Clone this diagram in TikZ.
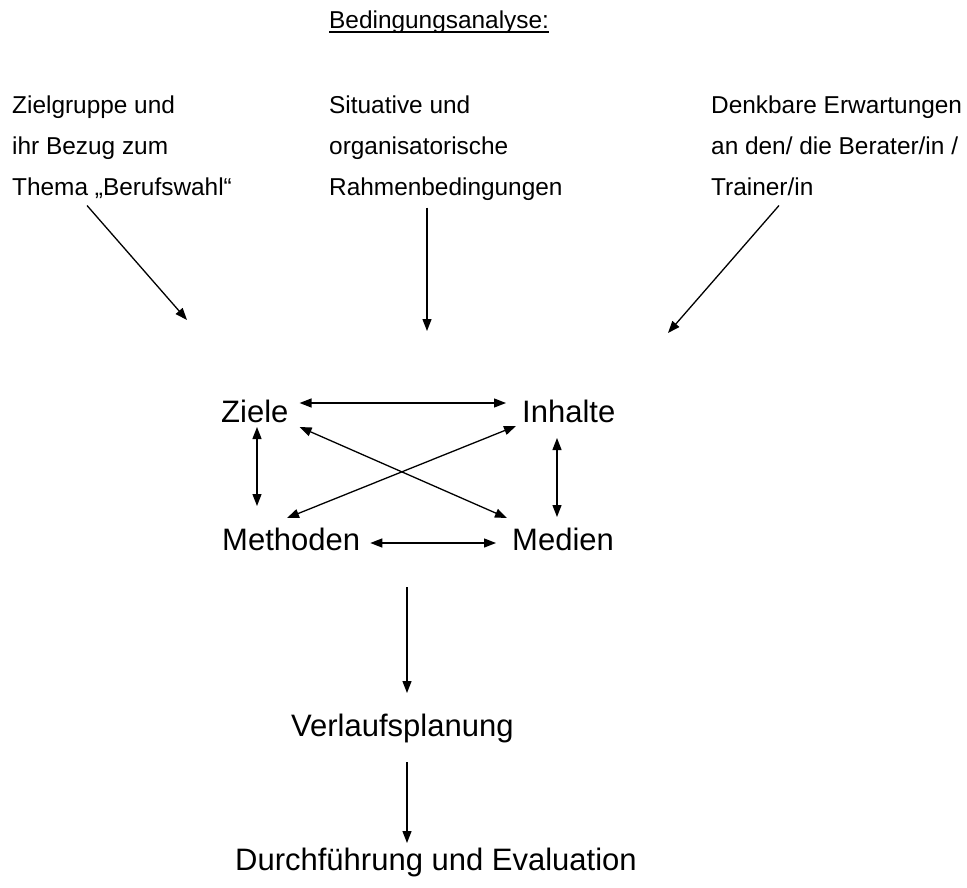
\documentclass[tikz,border=0pt]{standalone}
\usepackage{fontspec}
\setmainfont{Liberation Sans}
\usetikzlibrary{arrows.meta,calc}
\tikzset{
  klein/.style={anchor=north west, inner sep=0pt, align=left, font=\fontsize{24.4}{41}\selectfont},
  gross/.style={anchor=base west, inner sep=0pt, font=\fontsize{31}{37}\selectfont},
  pfeil/.style={line width=1.3pt, -{Triangle[length=12pt,width=9pt]}},
  doppel/.style={line width=1.3pt, {Triangle[length=12pt,width=9pt]}-{Triangle[length=12pt,width=9pt]}}
}
\begin{document}
\begin{tikzpicture}[x=1pt,y=-1pt]
\useasboundingbox (0,0) rectangle (967,888);
\node[anchor=base west, inner sep=0pt, font=\fontsize{24.4}{30}\selectfont] (titel) at (329,29){Bedingungsanalyse:};
\draw[line width=1.2pt] ($(titel.base west)+(0,3)$) -- ($(titel.base east)+(0,3)$);
\node[klein] (zielgruppe) at (12,95.5){Zielgruppe und\\ihr Bezug zum\\Thema „Berufswahl“};
\node[klein] (situativ) at (329,95.5){Situative und\\organisatorische\\Rahmenbedingungen};
\node[klein] (erwartung) at (711,95.5){Denkbare Erwartungen\\an den/ die Berater/in /\\Trainer/in};
\coordinate (zk) at (187,320);
\coordinate (sk) at (427,331);
\coordinate (ek) at (668,333);
\draw[pfeil] ($(zielgruppe.north west)+(75,110)$) -- (zk);
\draw[pfeil] ($(situativ.north west)+(98,112)$) -- (sk);
\draw[pfeil] ($(erwartung.north west)+(68,110)$) -- (ek);

\node[gross] (ziele) at (221,422){Ziele};
\node[gross] (inhalte) at (522,422){Inhalte};
\node[gross] (methoden) at (222,550){Methoden};
\node[gross] (medien) at (512,550){Medien};
\draw[doppel] ($(ziele.base east)+(11,-19)$) -- ($(inhalte.base west)+(-16,-19)$);
\draw[doppel] ($(ziele.base west)+(36,5)$) -- ($(methoden.base west)+(35,-44)$);
\draw[doppel] ($(inhalte.base west)+(35,16)$) -- ($(medien.base west)+(45,-33)$);
\draw[doppel] ($(methoden.base east)+(10,-7)$) -- ($(medien.base west)+(-16,-7)$);
\draw[doppel] ($(ziele.base east)+(11,5)$) -- ($(medien.base west)+(-5,-32)$);
\draw[doppel] ($(methoden.base west)+(65,-32)$) -- ($(inhalte.base west)+(-6,4)$);

\coordinate (blockunten) at (407,587);
\node[gross] (verlauf) at (291,736){Verlaufsplanung};
\node[gross] (durchf) at (235,870){Durchführung und Evaluation};
\draw[pfeil] (blockunten) -- ($(verlauf.base west)+(116,-43)$);
\draw[pfeil] ($(verlauf.base west)+(116,26)$) -- ($(durchf.base west)+(172,-27)$);

\end{tikzpicture}
\end{document}
